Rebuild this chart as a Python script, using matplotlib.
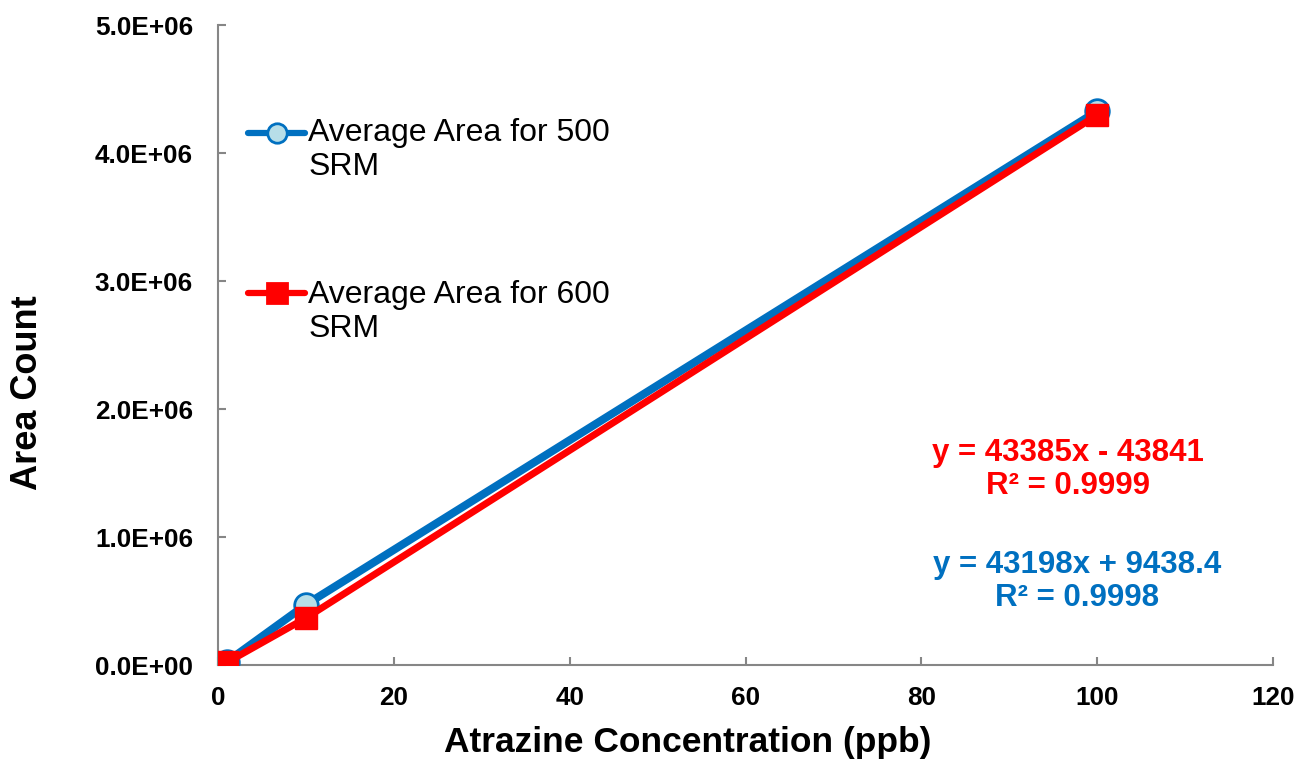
import matplotlib
matplotlib.use("Agg")
import matplotlib.pyplot as plt
from matplotlib.ticker import FuncFormatter

plt.rcParams['font.family'] = ['Liberation Sans', 'DejaVu Sans']

# Data
conc = [1, 10, 100]
area_500 = [25000, 471800, 4326500]
area_600 = [20000, 367500, 4296700]
label_500 = "Average Area for 500\nSRM"
label_600 = "Average Area for 600\nSRM"
eq_600 = "y = 43385x - 43841\nR² = 0.9999"
eq_500 = "y = 43198x + 9438.4\nR² = 0.9998"

blue = "#0070C0"
light = "#B7DEE8"
red = "#FF0000"
grey = "#868686"


def main():
    fig = plt.figure(figsize=(13.01, 7.79), dpi=100)
    ax = fig.add_axes([0.1676, 0.1463, 0.8109, 0.8216])

    # Series
    ax.plot(conc, area_500, color=blue, lw=5.8, marker='o', ms=17,
            mfc=light, mec=blue, mew=2, solid_capstyle='round', zorder=3)
    ax.plot(conc, area_600, color=red, lw=5, marker='s', ms=16,
            mfc=red, mec=red, solid_capstyle='round', zorder=4)

    ax.set_xlim(0, 120)
    ax.set_ylim(0, 5e6)
    ax.set_xticks(range(0, 121, 20))
    ax.set_yticks([0, 1e6, 2e6, 3e6, 4e6, 5e6])
    ax.yaxis.set_major_formatter(FuncFormatter(lambda v, p: '{:.1E}'.format(v)))

    for s in ['top', 'right']:
        ax.spines[s].set_visible(False)
    for s in ['left', 'bottom']:
        ax.spines[s].set_color(grey)
        ax.spines[s].set_linewidth(1.5)
    ax.tick_params(direction='in', length=6, width=1.5, color=grey)
    ax.tick_params(axis='y', labelsize=18.8, pad=18)
    ax.tick_params(axis='x', labelsize=18.8, pad=15)
    for t in ax.get_xticklabels() + ax.get_yticklabels():
        t.set_fontweight('bold')

    # Axis titles
    fig.text(0.5288, 0.047, "Atrazine Concentration (ppb)", fontsize=25.5,
             fontweight='bold', ha='center', va='center')
    fig.text(0.0215, 0.496, "Area Count", fontsize=26, fontweight='bold',
             rotation=90, ha='center', va='center')

    # Legend drawn by hand so the handle sits on the first text line
    def legend_entry(y_handle, y_text, color, marker, mfc, label):
        ax.plot([0.0284, 0.0825], [y_handle, y_handle], transform=ax.transAxes,
                color=color, lw=4.5, marker=None, solid_capstyle='round',
                clip_on=False, zorder=5)
        ax.plot([0.0555], [y_handle], transform=ax.transAxes, color=color,
                marker=marker, ms=14, mfc=mfc, mec=color, mew=2,
                clip_on=False, zorder=6)
        ax.text(0.0853, y_text, label, transform=ax.transAxes, fontsize=23,
                ha='left', va='top', linespacing=1.17)

    legend_entry((665 - 133) / 640, (665 - 118) / 640, blue, 'o', light, label_500)
    legend_entry((665 - 293) / 640, (665 - 280) / 640, red, 's', red, label_600)

    # Trendline equations
    ax.text(0.806, 0.305, eq_600, transform=ax.transAxes, color=red,
            fontsize=22.5, fontweight='bold', ha='center', va='center',
            linespacing=1.12)
    ax.text(0.814, 0.131, eq_500, transform=ax.transAxes, color=blue,
            fontsize=22.5, fontweight='bold', ha='center', va='center',
            linespacing=1.12)

    fig.savefig('out.png', dpi=100)


main()
